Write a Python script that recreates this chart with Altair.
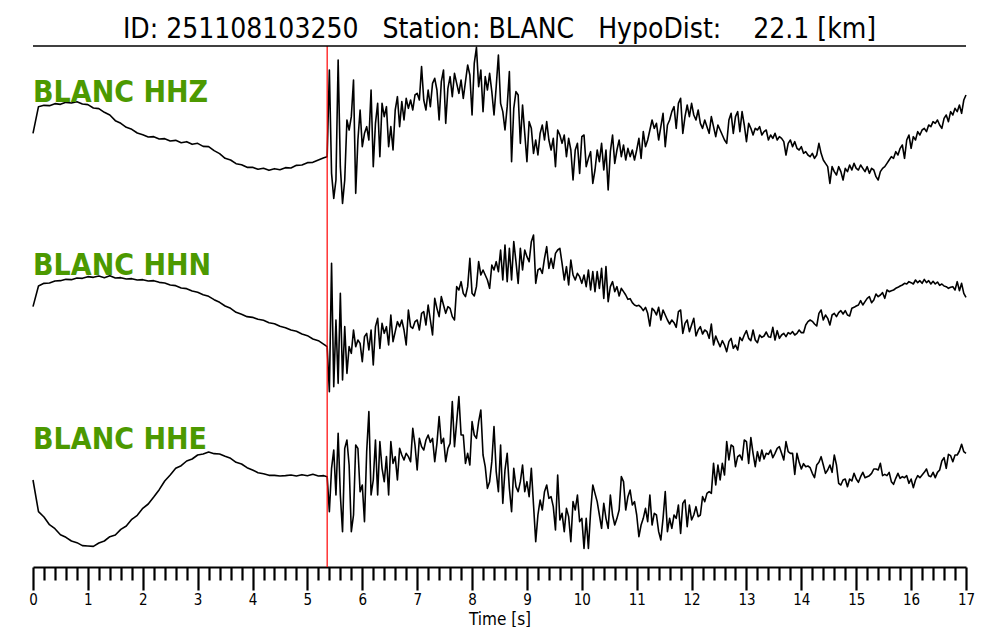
import numpy as np
import pandas as pd
import altair as alt

# ---------------- metadata ----------------
station = "BLANC"
channels = ["HHZ", "HHN", "HHE"]
event_id = "251108103250"
hypodist_km = 22.1
p_pick_s = 5.36
t_start, t_end = 0.0, 17.0

# ---------------- traces (amplitude, arbitrary counts) ----------------
# pre-event part, sampled every 0.1 s from 0 s
z_pre = [-25, 55, 59, 58, 64, 62, 68, 66, 70, 63, 61, 51, 49, 38, 30, 13, 5, -7, -13, -24,
         -29, -36, -35, -42, -41, -48, -46, -53, -50, -58, -55, -64, -65, -77, -86, -100,
         -105, -116, -119, -127, -127, -133, -130, -136, -131, -134, -128, -129, -121,
         -120, -113, -112, -105, -98]
n_pre = [16, 78, 86, 87, 93, 94, 98, 97, 102, 101, 106, 104, 108, 103, 109, 102, 103, 99,
         100, 96, 97, 93, 94, 89, 87, 81, 79, 72, 70, 63, 59, 52, 47, 37, 29, 18, 11, -1,
         -7, -14, -16, -22, -25, -32, -35, -43, -47, -54, -58, -66, -71, -81, -86, -97]
e_pre = [-24, -119, -135, -158, -170, -188, -196, -207, -212, -221, -222, -223, -213, -207,
         -194, -189, -172, -162, -142, -130, -109, -96, -75, -53, -27, -9, 11, 19, 33, 39,
         51, 54, 60, 55, 54, 47, 41, 29, 24, 13, 6, -2, -5, -10, -10, -12, -11, -9, -12,
         -8, -11, -7, -12, -11]

# from the P pick (5.36 s) to 17 s, evenly sampled
z_coda = [-95, 165, -145, -220, -165, 195, -125, -235, -165, 15,
          -15, 25, 135, -205, -45, 45, -65, -25, -5, -45,
          105, -125, 5, 65, -95, 65, 25, 55, -65, -5,
          -75, 45, 85, -5, 70, 15, 80, 50, 75, 45,
          90, 95, 75, 175, 75, 45, 105, 55, 125, 140,
          105, 15, 130, 165, 5, 110, 145, 85, 155, 125,
          95, 135, 80, 130, 180, 150, 30, 185, 233, 115,
          165, 40, 145, 105, 155, 100, 30, 115, 210, 65,
          40, -15, 55, 160, -110, 50, 100, 90, -55, 60,
          -25, -110, 10, -10, -85, -45, -90, -25, 0, -45,
          10, -45, -75, -40, -125, -15, -30, -55, -30, -95,
          -40, -75, -165, -75, -55, -145, -35, -30, -125, -100,
          -80, -175, -135, -75, -110, -55, -135, -75, -195, -80,
          -30, -115, -75, -45, -95, -60, -105, -70, -95, -75,
          -105, -75, -40, -100, -20, -65, -45, -15, 15, -10,
          5, -45, -5, 35, -65, 0, 15, 40, 55, -10,
          65, 80, -25, 25, 60, 25, 65, 30, 15, 45,
          5, -10, 15, -5, -25, 25, -5, -35, 0, -15,
          -30, -45, -55, 15, 35, -25, 25, 40, -20, 40,
          0, -50, 5, -10, -30, -10, -15, -5, -30, -20,
          -15, -45, -30, -40, -25, -45, -35, -40, -50, -90,
          -55, -45, -65, -50, -70, -75, -65, -85, -80, -90,
          -95, -85, -100, -90, -55, -85, -105, -115, -125, -175,
          -125, -140, -150, -125, -140, -165, -130, -140, -120, -135,
          -115, -130, -135, -120, -130, -140, -125, -145, -130, -135,
          -155, -165, -140, -130, -125, -115, -105, -95, -100, -80,
          -90, -70, -60, -100, -45, -30, -70, -35, -45, -20,
          -30, -15, -10, -20, 0, -5, 10, 5, 15, 0,
          -10, 20, 30, 10, 40, 30, 50, 40, 60, 35,
          75, 90]
n_coda = [-104, -239, 146, -224, -24, -214, 56, -204, -44, -184,
          -104, -124, -54, -104, -84, -94, -149, -74, -64, -114,
          -54, -159, -44, -19, -109, -34, -64, -44, -99, -9,
          -89, -59, -29, -44, -24, -54, -99, 6, -44, -49,
          -29, -24, -54, -4, 1, -39, 21, -24, -69, 41,
          11, -14, 46, 21, -4, 16, 11, -14, -24, 76,
          66, 91, 56, 46, 76, 161, 56, 48, 76, 151,
          111, 126, 111, 96, 71, 141, 126, 151, 121, 186,
          96, 201, 91, 191, 96, 211, 151, 86, 191, 126,
          186, 166, 151, 211, 231, 86, 126, 131, 116, 161,
          196, 131, 161, 131, 176, 186, 191, 146, 96, 136,
          81, 156, 111, 96, 116, 106, 86, 111, 76, 126,
          66, 121, 61, 121, 71, 131, 41, 136, 31, 76,
          91, 61, 76, 48, 71, 61, 51, 38, 40, 28,
          21, 18, 20, 14, 4, 14, -4, -42, 11, 4,
          -9, 14, -24, 6, -9, -24, -36, -24, -32, -46,
          1, 6, -64, -34, -24, -59, -39, -19, -72, -54,
          -44, -66, -54, -59, -79, -36, -99, -72, -89, -104,
          -86, -99, -119, -89, -79, -109, -99, -114, -76, -86,
          -69, -56, -79, -86, -54, -84, -92, -69, -76, -72,
          -60, -74, -76, -46, -84, -56, -79, -69, -64, -74,
          -62, -66, -59, -69, -64, -54, -62, -62, -39, -29,
          -24, -28, -36, -42, -4, 6, -24, -9, -19, -39,
          -9, -4, -14, -2, 4, -6, 4, -9, -12, 11,
          14, 18, 21, 34, 21, 31, 41, 46, 28, 36,
          54, 46, 51, 58, 41, 66, 61, 64, 66, 71,
          74, 78, 81, 86, 84, 91, 88, 84, 96, 88,
          94, 86, 98, 88, 94, 84, 92, 84, 90, 80,
          84, 78, 76, 71, 74, 76, 66, 91, 64, 86,
          56, 44]
e_coda = [-14, -119, 11, 66, -69, 116, -69, -179, 71, 96,
          21, -179, -129, 81, 71, -59, -39, -149, 61, 181,
          -69, -24, 96, -69, 91, 11, -29, 46, -69, 91,
          26, 46, -24, 71, 51, 36, 56, 46, 31, 131,
          81, 6, 101, 76, 66, 96, 111, 89, 101, 31,
          86, 166, 86, 101, 31, 71, 86, 211, 76, 151,
          226, 111, 111, 26, 56, 21, 151, 111, 101, 151,
          186, 51, 16, -49, -29, 31, 136, 1, -59, 81,
          -94, 6, 56, -49, -119, 11, -44, -59, -29, 21,
          -59, -29, -74, 11, -99, -209, -129, -84, -114, -59,
          -39, -79, -74, -104, -174, -9, -144, -124, -179, -109,
          -134, -209, -89, -114, -69, -149, -139, -229, -139, -229,
          -119, -39, -64, -89, -129, -169, -94, -139, -169, -69,
          -129, -159, -139, -114, -14, -29, -114, -74, -54, -99,
          -89, -129, -194, -159, -139, -109, -149, -69, -159, -124,
          -129, -179, -204, -139, -59, -179, -139, -169, -129, -139,
          -99, -184, -94, -84, -164, -99, -144, -129, -104, -134,
          -129, -74, -89, -64, -59, -64, 26, -39, 21, -24,
          26, -9, 91, 36, 81, 76, 16, 46, 51, 36,
          96, 91, 26, 103, 56, 16, 61, 33, 66, 39,
          56, 53, 66, 43, 56, 71, 76, 56, 36, 91,
          61, 56, 56, -7, 56, 29, 9, 25, 16, 18,
          13, -4, -17, 21, 29, 46, 21, -4, 6, 21,
          -1, 51, 21, -34, -39, -24, -21, -44, -21, -27,
          -4, -21, -31, -14, -1, -17, -14, -11, -4, 9,
          9, 6, 26, -11, -7, -11, -1, -29, -37, -19,
          -4, -19, -14, -17, -11, -34, -21, -47, -24, -11,
          -17, -9, -1, 9, -11, -14, -1, -17, -1, 6,
          33, 43, 11, 53, 49, 31, 51, 51, 63, 83,
          61, 56]

pre_series = [z_pre, n_pre, e_pre]
coda_series = [z_coda, n_coda, e_coda]

# vertical stacking of the three components (same units as amplitudes)
trace_offsets = [0, -561, -1041]
panel_span = 521
y_top = 237
y_bottom = y_top - 3 * panel_span
label_drop = 167

rows = []
for ch, pre, coda, off in zip(channels, pre_series, coda_series, trace_offsets):
    t_pre = np.round(np.arange(len(pre)) * 0.1, 3)
    t_coda = np.linspace(p_pick_s, t_end, len(coda))
    for t, v in zip(np.concatenate([t_pre, t_coda]), list(pre) + list(coda)):
        rows.append({"t": float(t), "y": float(v + off), "ch": ch})
df = pd.DataFrame(rows)

labels_df = pd.DataFrame({
    "t": [t_start] * 3,
    "y": [y_top - p * panel_span - label_drop for p in range(3)],
    "label": [f"{station} {c}" for c in channels],
})

tick_values = [round(i * 0.2, 1) for i in range(int(round(t_end / 0.2)) + 1)]
is_major = "abs(datum.value - round(datum.value)) < 0.001"

x_scale = alt.Scale(domain=[t_start, t_end], nice=False, zero=False)
y_scale = alt.Scale(domain=[y_bottom, y_top], nice=False, zero=False)

x_axis = alt.Axis(
    values=tick_values,
    tickCount=500,
    title="Time [s]",
    grid=False,
    domainColor="black",
    domainWidth=2,
    tickColor="black",
    tickWidth=2.2,
    tickSize={"condition": {"test": is_major, "value": 23}, "value": 13},
    labelExpr=f"{is_major} ? format(datum.value, 'd') : ''",
    labelFont="DejaVu Sans Condensed",
    labelFontSize=15,
    labelColor="black",
    labelPadding=2,
    labelOverlap=False,
    labelFlush=False,
    titleFont="DejaVu Sans Condensed",
    titleFontSize=17,
    titleFontWeight="normal",
    titleColor="black",
    titlePadding=4,
)

traces = alt.Chart(df).mark_line(color="black", strokeWidth=1.6, strokeJoin="round").encode(
    x=alt.X("t:Q", scale=x_scale, axis=x_axis),
    y=alt.Y("y:Q", scale=y_scale, axis=None),
    detail="ch:N",
)

pick = alt.Chart(pd.DataFrame({"t": [p_pick_s]})).mark_rule(color="#ff0000", strokeWidth=1.2).encode(
    x=alt.X("t:Q", scale=x_scale)
)

top_line = alt.Chart(pd.DataFrame({"y": [y_top]})).mark_rule(color="black", strokeWidth=1.6).encode(
    y=alt.Y("y:Q", scale=y_scale)
)

labels = alt.Chart(labels_df).mark_text(
    align="left", baseline="alphabetic", font="DejaVu Sans Condensed",
    fontSize=30, fontWeight="bold", color="#4c9900"
).encode(
    x=alt.X("t:Q", scale=x_scale),
    y=alt.Y("y:Q", scale=y_scale),
    text="label:N",
)

nb = "\u00a0"
title_text = (f"ID: {event_id}{nb*3}Station: {station}{nb*3}HypoDist:{nb*4}"
              f"{hypodist_km:.1f} [km]")

chart = alt.layer(traces, pick, top_line, labels).properties(
    width=933,
    height=521,
    padding={"left": 25, "top": 38, "right": 26, "bottom": 60},
    autosize=alt.AutoSizeParams(type="none"),
    view=alt.ViewBackground(stroke="transparent", strokeWidth=0),
    title=alt.TitleParams(
        text=title_text, font="DejaVu Sans Condensed", fontSize=28, fontWeight="normal",
        color="black", anchor="middle", frame="group", offset=1,
    ),
).configure_view(strokeWidth=0, stroke="transparent").configure(background="white")

chart.save("out.html", embed_options={"renderer": "svg", "actions": False})
